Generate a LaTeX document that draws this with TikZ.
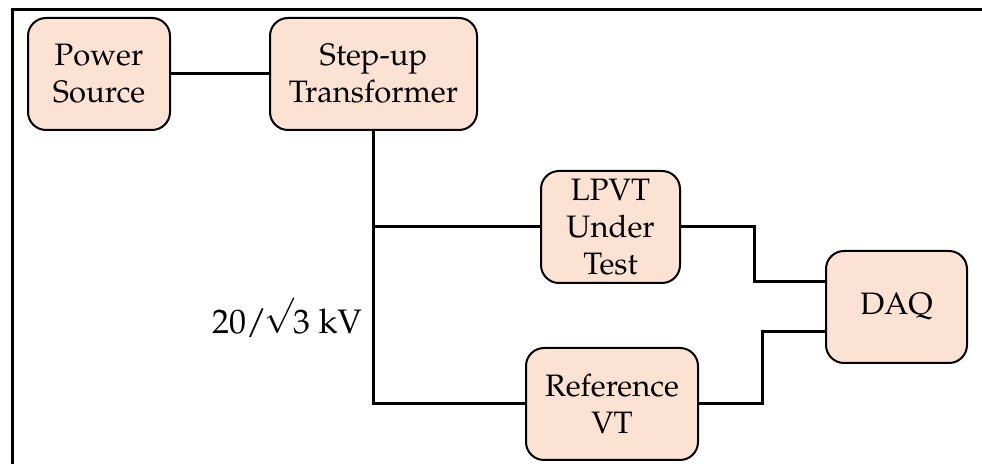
\documentclass[tikz,border=0pt]{standalone}
\usepackage[T1]{fontenc}
\usepackage{mathpazo}
\definecolor{boxfill}{RGB}{252,226,211}
\tikzset{
  blk/.style={draw=black, line width=1pt, fill=boxfill, rounded corners=9pt,
    align=center, inner sep=0pt, font=\fontsize{15.5}{18.5}\selectfont},
  wire/.style={line width=1.5pt},
}
\begin{document}
\begin{tikzpicture}[x=0.5pt, y=-0.5pt]
\useasboundingbox (0,0) rectangle (982,464);
\draw[line width=1.5pt] (12.5,464) -- (12.5,9.5) -- (982,9.5);
\node[blk, minimum width=71pt, minimum height=56pt] (ps) at (99,74) {Power\\Source};
\node[blk, minimum width=103.5pt, minimum height=56pt] (st) at (373.5,74) {Step-up\\Transformer};
\node[blk, minimum width=69.5pt, minimum height=56pt] (lp) at (610.5,227) {LPVT\\Under\\Test};
\node[blk, minimum width=86pt, minimum height=56pt] (rv) at (612,404) {Reference\\VT};
\node[blk, minimum width=70.5pt, minimum height=56pt] (daq) at (896.5,307) {DAQ};
\node[font=\fontsize{17}{20}\selectfont, inner sep=0pt] (lbl) at (287,318) {20/\kern-1.5pt\raisebox{4.5pt}{$\surd$}\kern-0.5pt3 kV};
\coordinate (dqa) at ([yshift=12.5pt]daq.west);
\coordinate (dqb) at ([yshift=-12.5pt]daq.west);
\coordinate (ja) at (754,227);
\coordinate (jb) at (762,404);
\draw[wire] (ps.east) -- (st.west);
\draw[wire] (st.south) -- (st.south |- rv.west) -- (rv.west);
\draw[wire] (st.south |- lp.west) -- (lp.west);
\draw[wire] (lp.east) -- (ja) |- (dqa);
\draw[wire] (rv.east) -- (jb) |- (dqb);
\end{tikzpicture}
\end{document}
